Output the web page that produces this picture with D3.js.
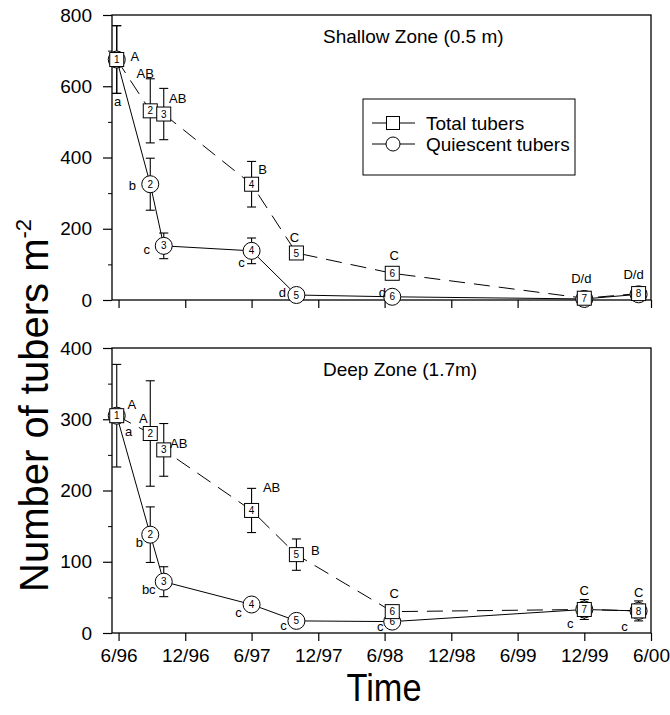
<!DOCTYPE html>
<html><head><meta charset="utf-8">
<script src="https://cdn.jsdelivr.net/npm/d3@7"></script>
<style>
body{margin:0;background:#fff}
svg text{font-family:Arial,"Liberation Sans",Helvetica,sans-serif;fill:#000}
</style>
</head><body>
<svg id="chart" width="670" height="715"></svg>
<script>
// ---------------- data ----------------
const sampleDates = ["1996-05-27","1996-08-27","1996-10-03","1997-06-01","1997-10-02","1998-06-22","1999-12-01","2000-04-28"];
const sampleIds = ["1","2","3","4","5","6","7","8"];
const tickDates = ["1996-06-01","1996-12-01","1997-06-01","1997-12-01","1998-06-01","1998-12-01","1999-06-01","1999-12-01","2000-06-01"];
const tickLabels = ["6/96","12/96","6/97","12/97","6/98","12/98","6/99","12/99","6/00"];

const shallowYTicks = [0,200,400,600,800];
const shallowYMinor = [100,300,500,700];
const shallowTotal = [675,531,522,325,132,75,5,18];
const shallowTotalSE = [95,90,72,64,0,0,12,14];
const shallowQuiescent = [675,325,152,138,14,9,3,16];
const shallowQuiescentSE = [95,73,36,36,0,0,0,0];
const shallowTotalLetters = ["A","AB","AB","B","C","C","D/d","D/d"];
const shallowQuiescentLetters = ["a","b","c","c","d","d","",""];

const deepYTicks = [0,100,200,300,400];
const deepYMinor = [50,150,250,350];
const deepTotal = [305,280,257,172,110,30,33,31];
const deepTotalSE = [72,74,37,31,22,0,14,14];
const deepQuiescent = [305,138,72,40,17,16,33,31];
const deepQuiescentSE = [0,39,21,0,0,0,0,0];
const deepTotalLetters = ["A","A","AB","AB","B","C","C","C"];
const deepQuiescentLetters = ["a","b","bc","c","c","c","c","c"];

const seriesNames = ["Total tubers","Quiescent tubers"];

// ---------------- layout (label offsets in px relative to marker) ----------------
const shallowTotalLabelOff = [[18,-3],[-5,-38],[14,-16],[11,-15],[-2,-16],[2,-18],[-3,-20],[-5,-19]];
const shallowQuiescentLabelOff = [[1,42],[-18,1],[-17,3],[-10,11],[-14,-3],[-10,-4],[0,0],[0,0]];
const deepTotalLabelOff = [[15,-11],[-7,-15],[15,-7],[20,-23],[19,-4],[2,-18],[0,-19],[0,-19]];
const deepQuiescentLabelOff = [[12,16],[-11,8],[-15,8],[-13,8],[-13,4],[-12,5],[-14,14],[-14,15]];

const svg = d3.select("#chart");
const parse = d3.timeParse("%Y-%m-%d");
const dates = sampleDates.map(parse);
const L = 112, R = 651;
const x = d3.scaleTime().domain([parse("1996-05-14"), parse("2000-06-01")]).range([L, R]);

const panels = [
  {title:"Shallow Zone (0.5 m)", top:15, bottom:300, yTicks:shallowYTicks, yMinor:shallowYMinor,
   total:shallowTotal, totalSE:shallowTotalSE, q:shallowQuiescent, qSE:shallowQuiescentSE,
   tl:shallowTotalLetters, ql:shallowQuiescentLetters, tOff:shallowTotalLabelOff, qOff:shallowQuiescentLabelOff,
   xLabels:false, legend:true},
  {title:"Deep Zone (1.7m)", top:348, bottom:633, yTicks:deepYTicks, yMinor:deepYMinor,
   total:deepTotal, totalSE:deepTotalSE, q:deepQuiescent, qSE:deepQuiescentSE,
   tl:deepTotalLetters, ql:deepQuiescentLetters, tOff:deepTotalLabelOff, qOff:deepQuiescentLabelOff,
   xLabels:true, legend:false}
];

const SQ = 14, CR = 8.5;

panels.forEach(p => {
  const y = d3.scaleLinear().domain([0, d3.max(p.yTicks)]).range([p.bottom, p.top]);
  const g = svg.append("g");

  // frame
  g.append("rect").attr("x", L).attr("y", p.top).attr("width", R-L).attr("height", p.bottom-p.top)
    .attr("fill","none").attr("stroke","#000").attr("stroke-width",1.3);

  // y axis
  const ya = g.append("g").attr("transform",`translate(${L},0)`)
    .call(d3.axisLeft(y).tickValues(p.yTicks).tickSize(9).tickPadding(11).tickFormat(d3.format("d")));
  ya.select(".domain").remove();
  ya.selectAll("text").style("font-size","19px").attr("font-family",null);
  ya.selectAll("line").attr("stroke-width",1.2);
  const ym = g.append("g").attr("transform",`translate(${L},0)`)
    .call(d3.axisLeft(y).tickValues(p.yMinor).tickSize(4).tickFormat(""));
  ym.select(".domain").remove();

  // x axis
  const xa = g.append("g").attr("transform",`translate(0,${p.bottom})`)
    .call(d3.axisBottom(x).tickValues(tickDates.map(parse)).tickSize(8).tickPadding(8)
      .tickFormat((d,i) => p.xLabels ? tickLabels[i] : ""));
  xa.select(".domain").remove();
  xa.selectAll("text").style("font-size","19px").attr("font-family",null);
  xa.selectAll("line").attr("stroke-width",1.2);

  // lines
  const lineT = d3.line().x((d,i)=>x(dates[i])).y(d=>y(d));
  g.append("path").attr("d", lineT(p.q)).attr("fill","none").attr("stroke","#000").attr("stroke-width",1);
  g.append("path").attr("d", lineT(p.total)).attr("fill","none").attr("stroke","#000").attr("stroke-width",1)
    .attr("stroke-dasharray","16,9");

  // error bars
  const eb = (vals, se) => {
    vals.forEach((v,i) => {
      if (!se[i]) return;
      const cx = x(dates[i]);
      const y1 = y(v + se[i]), y0 = y(Math.max(0, v - se[i]));
      g.append("line").attr("x1",cx).attr("x2",cx).attr("y1",y1).attr("y2",y0).attr("stroke","#000").attr("stroke-width",1.1);
      [y1,y0].forEach(yy => g.append("line").attr("x1",cx-4.5).attr("x2",cx+4.5).attr("y1",yy).attr("y2",yy)
        .attr("stroke","#000").attr("stroke-width",1.1));
    });
  };
  eb(p.q, p.qSE);
  eb(p.total, p.totalSE);

  // circles (quiescent)
  const cg = g.selectAll("g.qm").data(p.q).enter().append("g")
    .attr("transform",(d,i)=>`translate(${x(dates[i])},${y(d)})`);
  cg.append("circle").attr("r",CR).attr("fill","#fff").attr("stroke","#000").attr("stroke-width",1);
  cg.append("text").attr("text-anchor","middle").attr("dy","0.36em").style("font-size","10px").text((d,i)=>sampleIds[i]);

  // squares (total)
  const sg = g.selectAll("g.tm").data(p.total).enter().append("g")
    .attr("transform",(d,i)=>`translate(${x(dates[i])},${y(d)})`);
  sg.append("rect").attr("x",-SQ/2).attr("y",-SQ/2).attr("width",SQ).attr("height",SQ)
    .attr("fill","#fff").attr("stroke","#000").attr("stroke-width",1);
  sg.append("text").attr("text-anchor","middle").attr("dy","0.36em").style("font-size","10px").text((d,i)=>sampleIds[i]);

  // letter labels
  const lab = (vals, letters, off) => {
    vals.forEach((v,i) => {
      if (!letters[i]) return;
      g.append("text").attr("x", x(dates[i]) + off[i][0]).attr("y", y(v) + off[i][1])
        .attr("dy","0.36em").attr("text-anchor","middle").style("font-size","13px").text(letters[i]);
    });
  };
  lab(p.total, p.tl, p.tOff);
  lab(p.q, p.ql, p.qOff);

  // title
  g.append("text").attr("x",323).attr("y",p.top+28).style("font-size","19px").text(p.title);

  // legend
  if (p.legend) {
    const lg = g.append("g");
    lg.append("rect").attr("x",363).attr("y",99).attr("width",212).attr("height",76)
      .attr("fill","#fff").attr("stroke","#000").attr("stroke-width",1);
    seriesNames.forEach((name,k) => {
      const yy = 123 + k*21;
      lg.append("line").attr("x1",372).attr("x2",415).attr("y1",yy).attr("y2",yy).attr("stroke","#000").attr("stroke-width",1);
      if (k===0) lg.append("rect").attr("x",393-6.5).attr("y",yy-6.5).attr("width",13).attr("height",13)
        .attr("fill","#fff").attr("stroke","#000");
      else lg.append("circle").attr("cx",393).attr("cy",yy).attr("r",7).attr("fill","#fff").attr("stroke","#000");
      lg.append("text").attr("x",426).attr("y",yy+7).style("font-size","19px").text(name);
    });
  }
});

// axis titles
const yt = svg.append("text").attr("transform","translate(48,592) rotate(-90)").style("font-size","40px");
yt.append("tspan").text("Number of tubers m");
yt.append("tspan").attr("dy",-17).style("font-size","22px").text("-2");

svg.append("text").attr("transform","translate(384,701) scale(0.88,1)").attr("text-anchor","middle")
  .style("font-size","39px").text("Time");
</script>
</body></html>
